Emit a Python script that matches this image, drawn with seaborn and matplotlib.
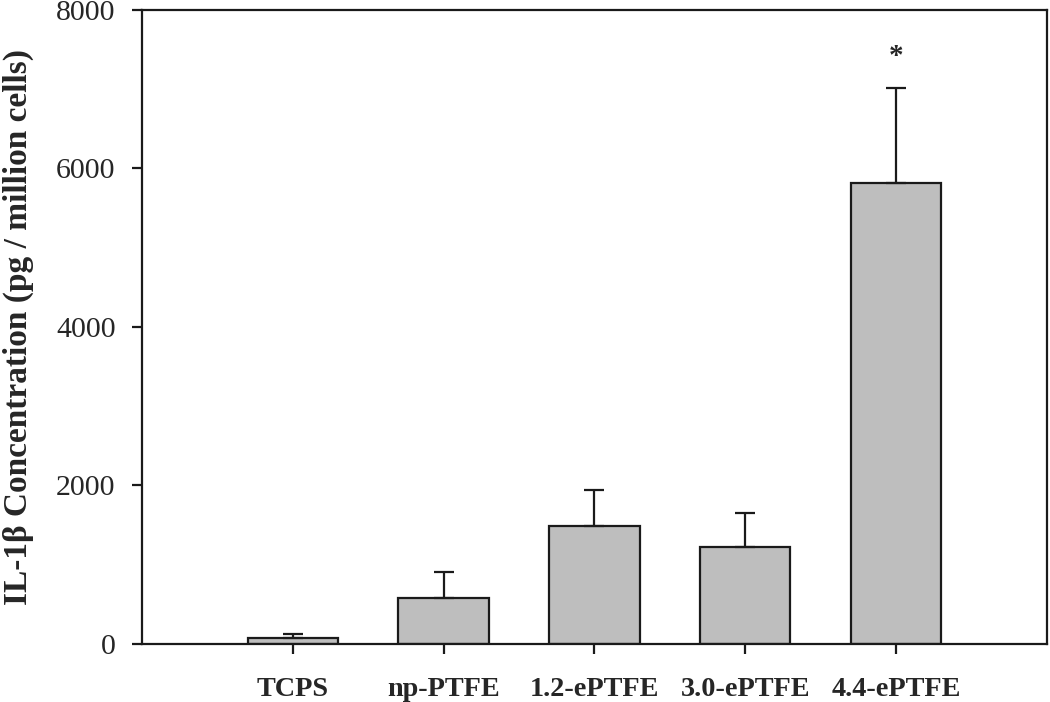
import numpy as np
import pandas as pd
import matplotlib
matplotlib.use('Agg')
import matplotlib.pyplot as plt
import seaborn as sns

# values
groups = ['TCPS', 'np-PTFE', '1.2-ePTFE', '3.0-ePTFE', '4.4-ePTFE']
il1b_mean = [75, 580, 1490, 1220, 5820]
il1b_sem = [45, 330, 450, 430, 1190]
y_ticks = [0, 2000, 4000, 6000, 8000]

df = pd.DataFrame({'group': groups, 'il1b': il1b_mean})

sns.set_style('white')
plt.rcParams['font.family'] = ['Liberation Serif', 'DejaVu Serif']

fig = plt.figure(figsize=(10.5, 7.02), dpi=100)
ax = fig.add_axes([0.1352, 0.083, 0.8618, 0.9028])

sns.barplot(data=df, x='group', y='il1b', color='#bebebe', saturation=1,
            edgecolor='#1a1a1a', linewidth=1.6, width=0.6, errorbar=None, ax=ax)

# upper-only error bars, centred on the drawn bars
centers = [p.get_x() + p.get_width() / 2 for p in ax.patches]
ax.errorbar(centers, il1b_mean, yerr=[np.zeros(len(il1b_sem)), il1b_sem],
            fmt='none', ecolor='#1a1a1a', elinewidth=1.6, capsize=7, capthick=1.6,
            zorder=1)

# significance mark over the last bar
ax.text(centers[4], il1b_mean[4] + il1b_sem[4] + 400, '*', ha='center',
        va='center', fontsize=21, fontweight='bold')

ax.set_xlim(-1, 5)
ax.set_ylim(0, 8000)
ax.set_yticks(y_ticks)
ax.set_xlabel('')
ax.set_ylabel('IL-1β Concentration (pg / million cells)', fontsize=24,
              fontweight='bold', labelpad=16)

for s in ax.spines.values():
    s.set_visible(True)
    s.set_color('#1a1a1a')
    s.set_linewidth(1.6)

ax.tick_params(axis='y', which='both', left=True, right=False, direction='out',
               length=7, width=1.6, labelsize=21.5, color='#1a1a1a', pad=12)
ax.tick_params(axis='x', which='both', bottom=True, top=False, direction='out',
               length=7, width=1.6, labelsize=20.3, color='#1a1a1a', pad=17)
for lbl in ax.get_xticklabels():
    lbl.set_fontweight('bold')

fig.savefig('out.png', dpi=100)
